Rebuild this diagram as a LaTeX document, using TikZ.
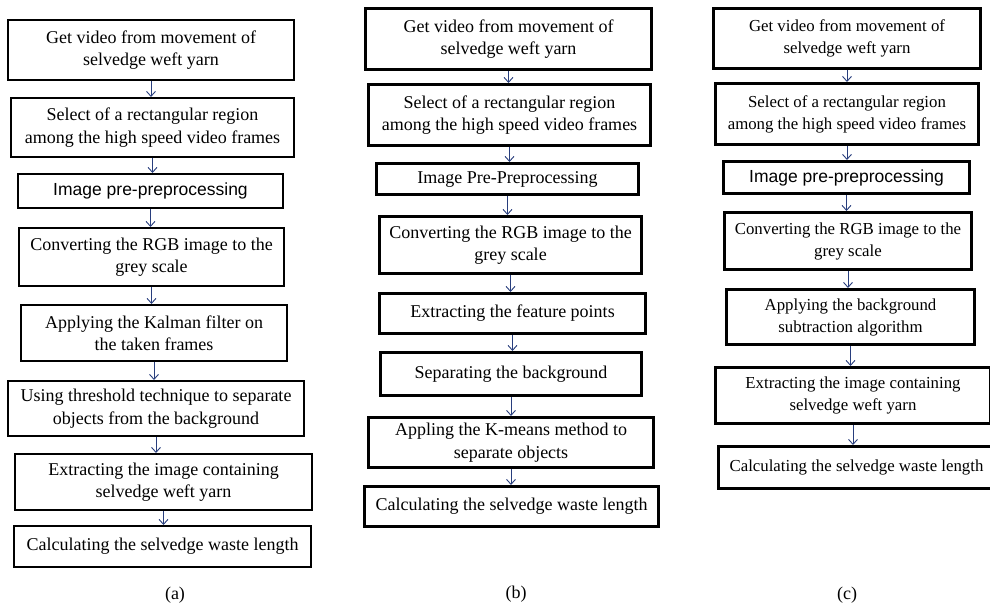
\documentclass[tikz,border=0pt]{standalone}
\usepackage{fontspec}
\setmainfont{Liberation Serif}
\newfontfamily\arialf{Liberation Sans}
\usetikzlibrary{arrows.meta}
\definecolor{arrblue}{RGB}{40,62,125}
\begin{document}
\begin{tikzpicture}[x=1bp,y=-1bp,
  txt/.style={font=\fontsize{18bp}{22.5bp}\selectfont, align=center, inner sep=0pt},
  boxa/.style={txt, draw=black, line width=2bp, rectangle},
  boxb/.style={txt, draw=black, line width=3bp, rectangle},
  boxc/.style={boxb, font=\fontsize{16.8bp}{22bp}\selectfont},
  arr/.style={draw=arrblue, line width=0.9bp, -{Straight Barb[length=5bp,width=9bp]}},
  lab/.style={font=\fontsize{18bp}{22bp}\selectfont, inner sep=0pt}
]
\fill[white] (0,0) rectangle (990,610);
\useasboundingbox (0,0) rectangle (990,610);

% column (a)
\node[boxa, minimum width=286bp, minimum height=60bp] (a1) at (151,50) {Get video from movement of\\selvedge weft yarn};
\node[boxa, minimum width=283bp, minimum height=59bp] (a2) at (152.5,127.5) {Select of a rectangular region\\among the high speed video frames};
\node[boxa, minimum width=265bp, minimum height=34bp, font=\arialf\fontsize{17.5bp}{21bp}\selectfont] (a3) at (150.5,191) {Image pre-preprocessing};
\node[boxa, minimum width=265bp, minimum height=58bp] (a4) at (151.5,257) {Converting the RGB image to the\\grey scale};
\node[boxa, minimum width=266bp, minimum height=56bp] (a5) at (154,333) {Applying the Kalman filter on\\the taken frames};
\node[boxa, minimum width=296bp, minimum height=55bp] (a6) at (156,408.5) {Using threshold technique to separate\\objects from the background};
\node[boxa, minimum width=297bp, minimum height=56bp] (a7) at (163.5,482) {Extracting the image containing\\selvedge weft yarn};
\node[boxa, minimum width=297bp, minimum height=41bp] (a8) at (162.5,546.5) {Calculating the selvedge waste length};

% column (b)
\node[boxb, minimum width=286bp, minimum height=61bp] (b1) at (508.5,39) {Get video from movement of\\selvedge weft yarn};
\node[boxb, minimum width=282bp, minimum height=61bp] (b2) at (509.5,115) {Select of a rectangular region\\among the high speed video frames};
\node[boxb, minimum width=262bp, minimum height=31bp] (b3) at (507.5,179) {Image Pre-Preprocessing};
\node[boxb, minimum width=262bp, minimum height=57bp] (b4) at (510.5,245) {Converting the RGB image to the\\grey scale};
\node[boxb, minimum width=266bp, minimum height=40bp] (b5) at (512.5,313.5) {Extracting the feature points};
\node[boxb, minimum width=261bp, minimum height=43bp] (b6) at (511,374) {Separating the background};
\node[boxb, minimum width=285bp, minimum height=50bp] (b7) at (511,442.5) {Appling the K-means method to\\separate objects};
\node[boxb, minimum width=294bp, minimum height=40bp] (b8) at (511.5,506.5) {Calculating the selvedge waste length};

% column (c)
\node[boxc, minimum width=267bp, minimum height=60bp] (c1) at (847,38.5) {Get video from movement of\\selvedge weft yarn};
\node[boxc, minimum width=263bp, minimum height=61bp] (c2) at (847,114) {Select of a rectangular region\\among the high speed video frames};
\node[boxc, minimum width=246bp, minimum height=32bp, font=\arialf\fontsize{17.5bp}{21bp}\selectfont] (c3) at (846.5,177.5) {Image pre-preprocessing};
\node[boxc, minimum width=247bp, minimum height=57bp] (c4) at (848,241) {Converting the RGB image to the\\grey scale};
\node[boxc, minimum width=248bp, minimum height=55bp] (c5) at (850.5,317) {Applying the background\\subtraction algorithm};
\node[boxc, minimum width=275bp, minimum height=56bp] (c6) at (853,395.5) {Extracting the image containing\\selvedge weft yarn};
\node[boxc, minimum width=276bp, minimum height=42bp] (c7) at (856.5,467.5) {Calculating the selvedge waste length};

% arrows
\foreach \u/\l in {a1/a2,a2/a3,a3/a4,a4/a5,a5/a6,a6/a7,a7/a8,
                   b1/b2,b2/b3,b3/b4,b4/b5,b5/b6,b6/b7,b7/b8,
                   c1/c2,c2/c3,c3/c4,c4/c5,c5/c6,c6/c7}
  \draw[arr] (\u.south) -- (\u.south |- \l.north);

% labels
\node[lab] (la) at (175,595) {(a)};
\node[lab] (lb) at (516,594) {(b)};
\node[lab] (lc) at (847,595) {(c)};
\end{tikzpicture}
\end{document}
